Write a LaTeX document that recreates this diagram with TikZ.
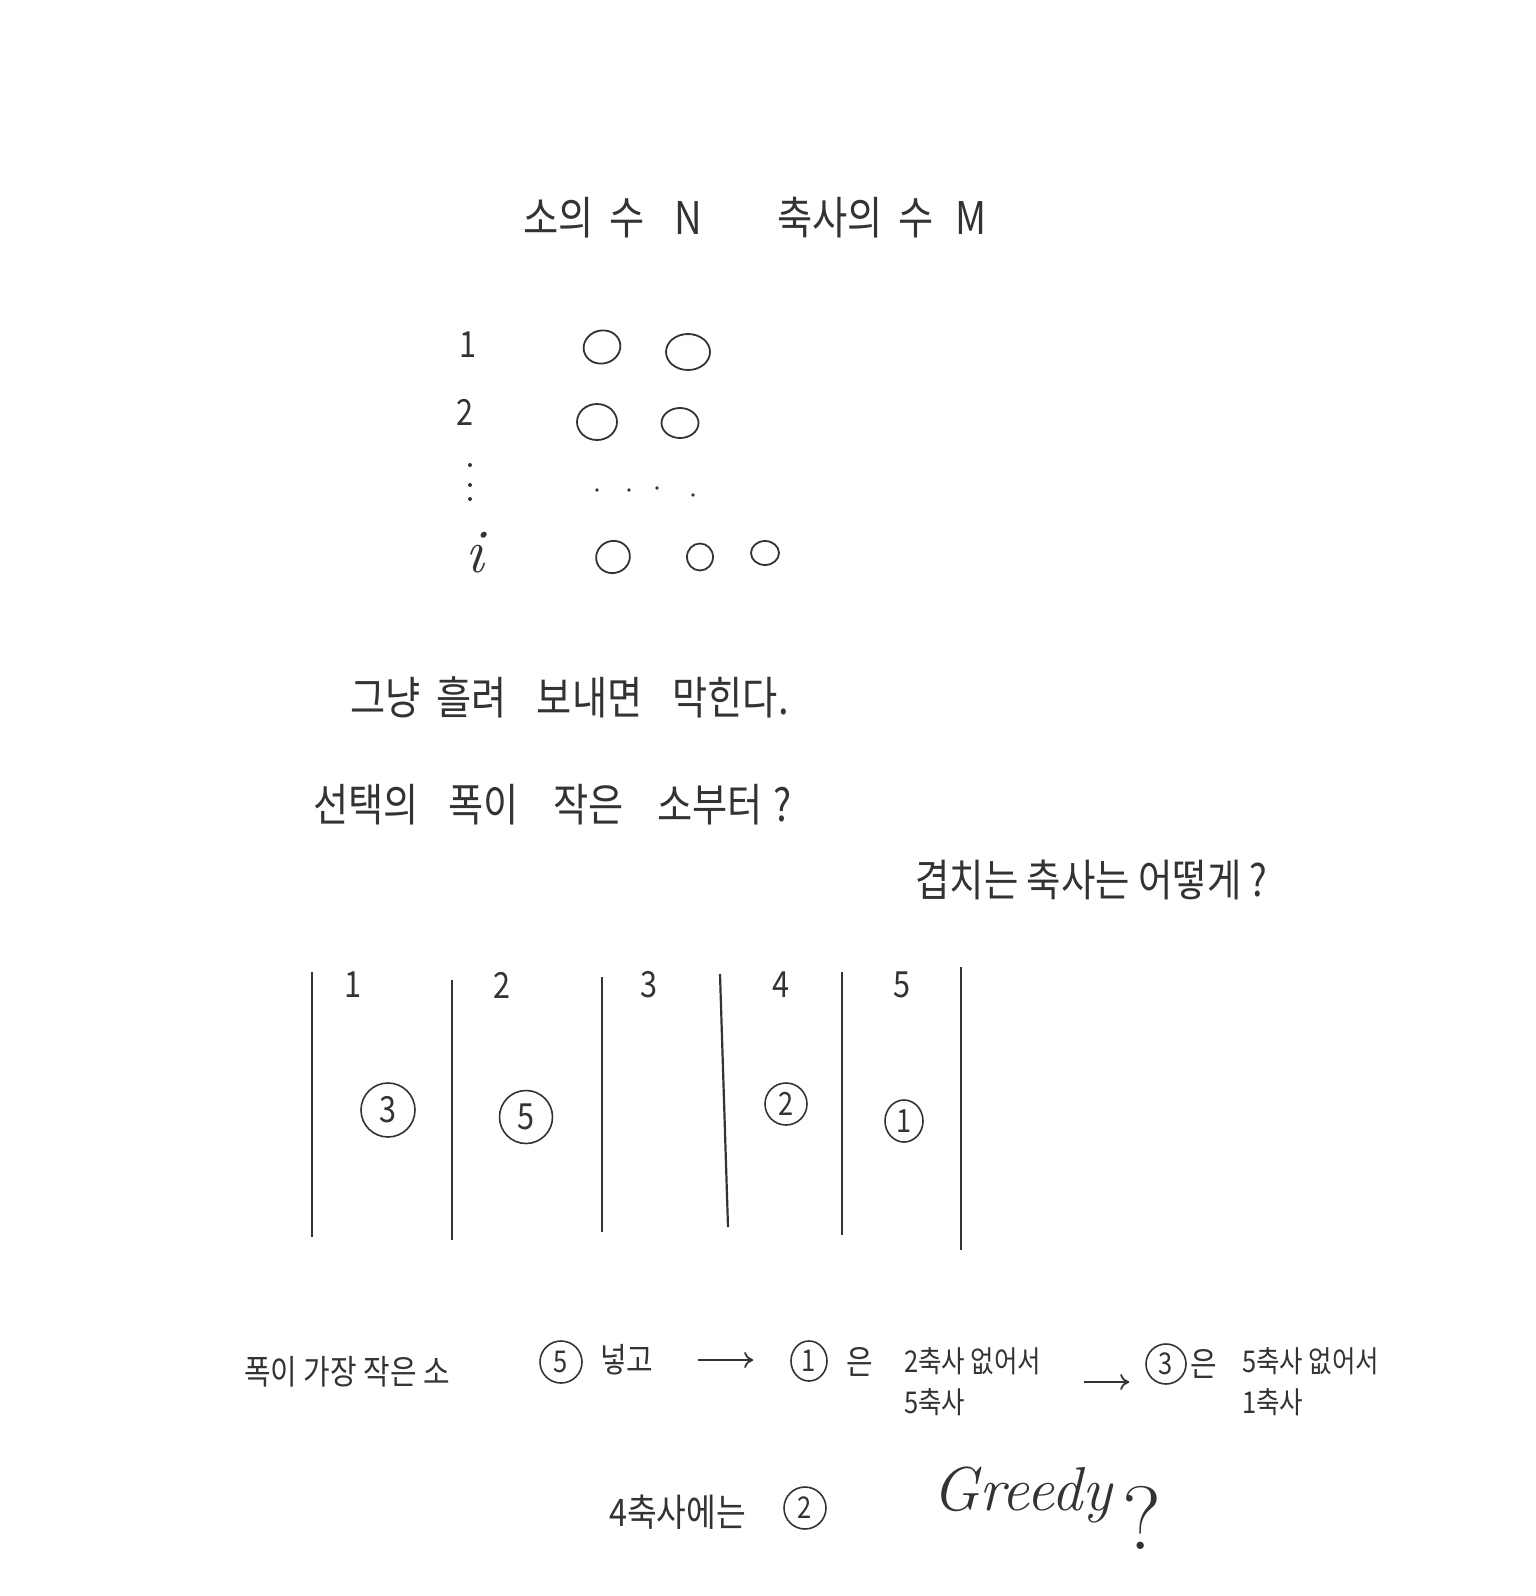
\documentclass[tikz,border=0pt]{standalone}
\usepackage{fontspec}
\newfontfamily\kr[FakeStretch=0.85]{Noto Sans CJK KR}
\usetikzlibrary{arrows.meta,shapes.geometric}
\colorlet{pencil}{black!80}

\begin{document}
\begin{tikzpicture}[x=1pt,y=-1pt,
    note/.style={anchor=west,inner sep=0pt,text=pencil,font=\kr\fontsize{45}{52}\selectfont},
    small/.style={note,font=\kr\fontsize{34}{41}\selectfont},
    num/.style={inner sep=0pt,text=pencil,font=\kr\fontsize{36}{40}\selectfont},
    seat/.style={draw=pencil,line width=1.8pt,ellipse,inner sep=0pt},
    cow/.style={draw=pencil,line width=1.6pt,circle,inner sep=0pt,text=pencil,font=\kr\fontsize{36}{40}\selectfont},
    tag/.style={cow,font=\kr\fontsize{30}{34}\selectfont},
    wall/.style={draw=pencil,line width=2.2pt},
    flow/.style={draw=pencil,line width=1.8pt,-{To[length=9pt,width=16pt]}},
   ]
   \useasboundingbox (0,0) rectangle (1536,1596);
   \node[note] (cows) at (523,218) {소의\hspace{16pt}수\hspace{30pt}N};
   \node[note] (stalls) at (777,218) {축사의\hspace{16pt}수\hspace{22pt}M};

   \node[num] (r1) at (468,345) {1};
   \node[num] (r2) at (465,412) {2};
   \foreach \y in {465,485,499}
     \fill[pencil] (470,\y) circle (2pt);
   \node[num,font=\fontsize{62}{62}\selectfont\itshape] (ri) at (475,553) {i};
   \node[seat,minimum width=37pt,minimum height=33pt,rotate=15] (s11) at (602,347) {};
   \node[seat,minimum width=44pt,minimum height=36pt] (s12) at (688,352) {};
   \node[seat,minimum width=40pt,minimum height=36pt] (s21) at (597,422) {};
   \node[seat,minimum width=37pt,minimum height=30pt] (s22) at (680,423) {};
   \node[seat,minimum width=34pt,minimum height=32pt,rotate=20] (si1) at (613,557) {};
   \node[seat,minimum width=26pt,minimum height=27pt] (si2) at (700,557) {};
   \node[seat,minimum width=28pt,minimum height=24pt] (si3) at (765,553) {};
   \foreach \x/\y in {597/490,629/490,657/488,693/495}
     \fill[pencil] (\x,\y) circle (1.8pt);

   \node[note] (jam) at (350,697) {그냥\hspace{16pt}흘려\hspace{30pt}보내면\hspace{30pt}막힌다.};
   \node[note] (idea) at (313,805) {선택의\hspace{30pt}폭이\hspace{34pt}작은\hspace{34pt}소부터\hspace{10pt}?};
   \node[note,font=\kr\fontsize{44}{50}\selectfont] (overlap) at (915,880) {겹치는 축사는 어떻게 ?};

   \foreach \xa/\ya/\xb/\yb in {312/972/312/1237,452/980/452/1240,602/977/602/1232,
       720/974/728/1227,842/972/842/1235,961/967/961/1250}
     \draw[wall] (\xa,\ya) -- (\xb,\yb);
   \foreach \n/\x in {1/353,2/502,3/649,4/781,5/902}
     \node[num] (st\n) at (\x,985) {\n};
   \node[cow,minimum size=54pt] (k3) at (388,1110) {3};
   \node[cow,minimum size=53pt] (k5) at (526,1117) {5};
   \node[cow,minimum size=42pt,font=\kr\fontsize{32}{36}\selectfont] (k2) at (786,1104) {2};
   \node[cow,ellipse,minimum width=38pt,minimum height=42pt,font=\kr\fontsize{32}{36}\selectfont] (k1) at (904,1121) {1};

   \node[small] (first) at (244,1372) {폭이 가장 작은 소};
   \node[tag,minimum size=42pt] (b5) at (561,1362) {5};
   \node[small] (put) at (600,1360) {넣고};
   \node[tag,ellipse,minimum width=36pt,minimum height=40pt] (b1) at (809,1361) {1};
   \node[small] (eun1) at (846,1362) {은};
   \node[small,align=left,font=\kr\fontsize{30}{41}\selectfont] (why1) at (904,1382) {2축사 없어서\\5축사};
   \node[tag,minimum size=40pt] (b3) at (1166,1364) {3};
   \node[small] (eun3) at (1190,1364) {은};
   \node[small,align=left,font=\kr\fontsize{30}{41}\selectfont] (why3) at (1242,1382) {5축사 없어서\\1축사};
   \draw[flow,shorten <=44pt,shorten >=37pt] (put.east) -- (put.east -| b1.west);
   \draw[flow,shorten <=42pt,shorten >=16pt] (why1.east) -- (why1.east -| b3.west);

   \node[small,font=\kr\fontsize{38}{44}\selectfont] (fourth) at (609,1512) {4축사에는};
   \node[tag,minimum size=42pt] (b2) at (805,1508) {2};
   \node[anchor=west,inner sep=0pt,text=pencil,font=\fontsize{62}{62}\selectfont\itshape] (greedy) at (932,1495) {Greedy};
   \node[inner sep=0pt,text=pencil,font=\fontsize{90}{90}\selectfont] (ask) at (1142,1518) {?};
\end{tikzpicture}
\end{document}
